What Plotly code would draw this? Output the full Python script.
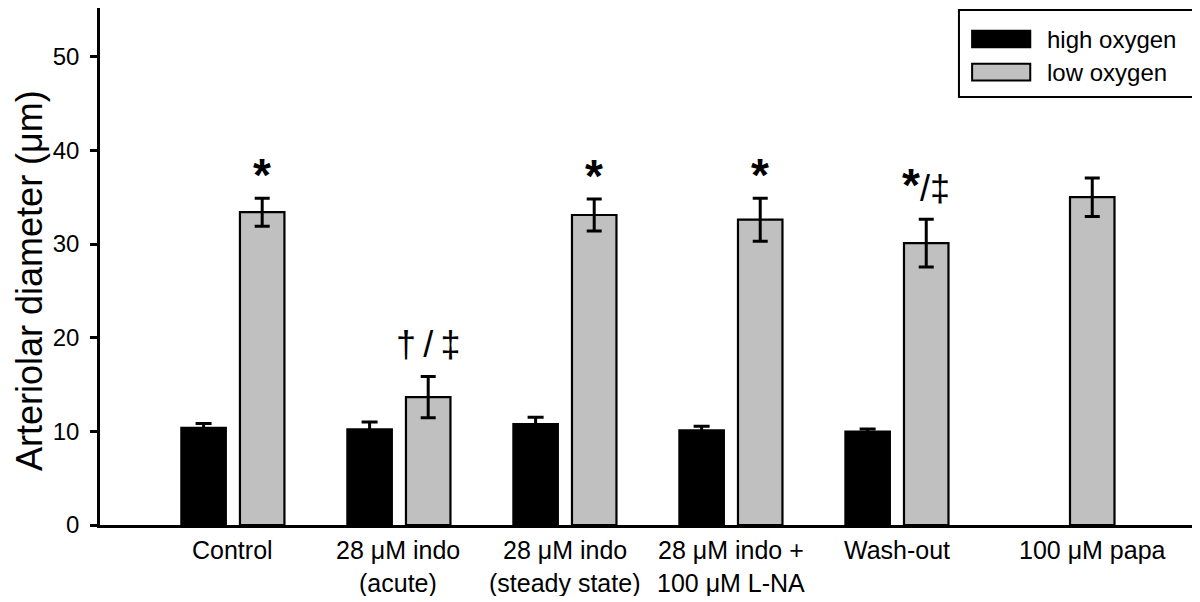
import plotly.graph_objects as go

# ---- data ----
categories_line1 = ["Control", "28 μM indo", "28 μM indo", "28 μM indo +", "Wash-out", "100 μM papa"]
categories_line2 = ["", "(acute)", "(steady state)", "100 μM L-NA", "", ""]
x_pos = [0, 1, 2, 3, 4, 5]

high_oxygen = [10.4, 10.25, 10.8, 10.15, 10.0, None]
high_sem = [0.45, 0.75, 0.7, 0.4, 0.25, None]
low_oxygen = [33.4, 13.65, 33.1, 32.6, 30.1, 35.0]
low_sem = [1.5, 2.2, 1.7, 2.3, 2.55, 2.05]
STAR = "<span style='font-size:46px'><b>*</b></span>"
sig_labels = [STAR, "†\u2009/\u2009‡", STAR, STAR, STAR + "/‡", ""]

y_ticks = [0, 10, 20, 30, 40, 50]
y_title = "Arteriolar diameter (μm)"
legend_labels = ["high oxygen", "low oxygen"]
legend_colors = ["black", "#c0c0c0"]

FONT = "Liberation Sans, Arial, sans-serif"

fig = go.Figure()
fig.add_trace(go.Bar(
    name=legend_labels[0], x=x_pos, y=high_oxygen,
    width=0.272, offset=-0.31, showlegend=False,
    marker=dict(color=legend_colors[0], line=dict(color="black", width=1.5)),
    error_y=dict(type="data", array=high_sem, visible=True, color="black", thickness=3, width=8),
))
fig.add_trace(go.Bar(
    name=legend_labels[1], x=x_pos, y=low_oxygen,
    width=0.268, offset=0.045, showlegend=False,
    marker=dict(color=legend_colors[1], line=dict(color="black", width=2.2)),
    error_y=dict(type="data", array=low_sem, visible=True, color="black", thickness=3, width=7.5),
))

# significance markers above low-oxygen bars
for xi, v, s, lab in zip(x_pos, low_oxygen, low_sem, sig_labels):
    if lab:
        if lab == STAR:
            ys = -5
        elif STAR in lab:
            ys = 6
        else:
            ys = 10
        fig.add_annotation(x=xi + 0.179, y=v + s, text=lab, showarrow=False,
                           yanchor="bottom", yshift=ys,
                           font=dict(family=FONT, size=36, color="black"))

# category labels (two lines)
for xi, l1, l2 in zip(x_pos, categories_line1, categories_line2):
    xl = xi + 0.179 if xi == 5 else xi
    fig.add_annotation(x=xl, y=0, yref="paper", text=l1, showarrow=False,
                       yanchor="middle", yshift=-25,
                       font=dict(family=FONT, size=25, color="black"))
    if l2:
        fig.add_annotation(x=xl, y=0, yref="paper", text=l2, showarrow=False,
                           yanchor="middle", yshift=-58,
                           font=dict(family=FONT, size=25, color="black"))

# y-axis title
fig.add_annotation(xref="paper", yref="paper", x=-0.0638, y=0.472, text=y_title,
                   textangle=-90, showarrow=False, xanchor="center", yanchor="middle",
                   font=dict(family=FONT, size=36, color="black"))

# legend box (drawn in paper space)
fig.add_shape(type="rect", xref="paper", yref="paper", x0=0.783, x1=0.998, y0=0.828, y1=0.996,
              line=dict(color="black", width=2), fillcolor="white")
row_y = [0.940, 0.876]
for lab, col, ry in zip(legend_labels, legend_colors, row_y):
    fig.add_shape(type="rect", xref="paper", yref="paper", x0=0.795, x1=0.848,
                  y0=ry - 0.016, y1=ry + 0.016, line=dict(color="black", width=2), fillcolor=col)
    fig.add_annotation(xref="paper", yref="paper", x=0.861, y=ry, text=lab, showarrow=False,
                       xanchor="left", yanchor="middle",
                       font=dict(family=FONT, size=24, color="black"))

fig.update_layout(
    width=1192, height=588,
    margin=dict(l=92, r=3, t=0, b=71),
    plot_bgcolor="white", paper_bgcolor="white",
    showlegend=False,
    xaxis=dict(range=[-0.798, 5.81], showline=True, linecolor="black", linewidth=2.5,
               tickvals=x_pos, showticklabels=False, ticks="", showgrid=False, zeroline=False),
    yaxis=dict(range=[0, 55.2], showline=True, linecolor="black", linewidth=2.5,
               tickvals=y_ticks, ticks="outside", ticklen=7, tickwidth=2.5, tickcolor="black",
               ticklabelstandoff=6,
               tickfont=dict(family=FONT, size=24, color="black"),
               showgrid=False, zeroline=False),
)

fig.write_html("out.html")
